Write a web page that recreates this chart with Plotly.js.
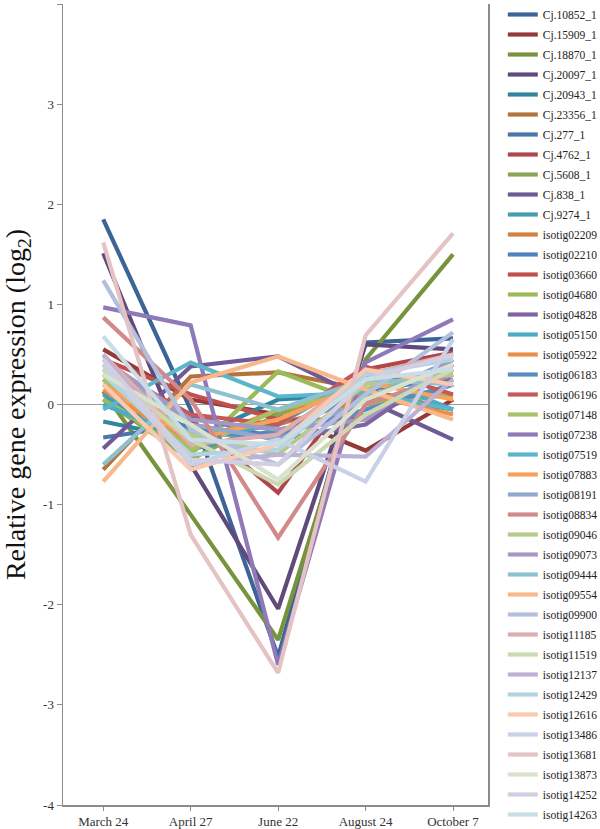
<!DOCTYPE html>
<html>
<head>
<meta charset="utf-8">
<script src="https://cdn.plot.ly/plotly-3.0.1.min.js"></script>
<style>
  html, body { margin: 0; padding: 0; background: #fff; }
  #plot { width: 600px; height: 829px; }
</style>
</head>
<body>
<div id="plot"></div>
<script>
// sampling dates (x categories)
const dates = ['March 24', 'April 27', 'June 22', 'August 24', 'October 7'];

// y tick labels (hyphen minus as in the original)
const yTicks = [-4, -3, -2, -1, 0, 1, 2, 3, 4];
const yTickText = ['-4', '-3', '-2', '-1', '0', '1', '2', '3', '4'];

// gene names, in legend order
const genes = [
  'Cj.10852_1', 'Cj.15909_1', 'Cj.18870_1', 'Cj.20097_1', 'Cj.20943_1', 'Cj.23356_1',
  'Cj.277_1', 'Cj.4762_1', 'Cj.5608_1', 'Cj.838_1', 'Cj.9274_1', 'isotig02209',
  'isotig02210', 'isotig03660', 'isotig04680', 'isotig04828', 'isotig05150', 'isotig05922',
  'isotig06183', 'isotig06196', 'isotig07148', 'isotig07238', 'isotig07519', 'isotig07883',
  'isotig08191', 'isotig08834', 'isotig09046', 'isotig09073', 'isotig09444', 'isotig09554',
  'isotig09900', 'isotig11185', 'isotig11519', 'isotig12137', 'isotig12429', 'isotig12616',
  'isotig13486', 'isotig13681', 'isotig13873', 'isotig14252', 'isotig14263'
];

// relative expression (log2), one row per gene, one value per date
const expression = [
  [1.85, -0.05, -2.52, 0.62, 0.66],
  [0.55, 0.05, -0.10, -0.46, 0.05],
  [0.13, -1.10, -2.35, 0.45, 1.50],
  [1.51, -0.60, -2.04, 0.60, 0.55],
  [-0.17, -0.35, 0.05, 0.10, -0.05],
  [-0.65, 0.28, 0.32, 0.15, -0.05],
  [-0.33, -0.20, -0.35, 0.25, 0.30],
  [0.30, -0.15, -0.88, 0.35, 0.52],
  [0.05, -0.55, -0.10, 0.20, 0.30],
  [-0.44, 0.38, 0.48, 0.05, -0.35],
  [0.10, -0.45, -0.25, -0.10, 0.20],
  [0.25, -0.30, -0.20, 0.05, 0.10],
  [0.20, -0.25, -0.30, 0.15, 0.25],
  [0.45, 0.10, -0.15, -0.15, 0.35],
  [0.05, -0.50, 0.33, 0.00, 0.10],
  [0.35, -0.10, -0.35, -0.20, 0.40],
  [0.00, -0.35, -0.20, 0.30, -0.05],
  [0.15, -0.40, -0.05, 0.10, -0.10],
  [0.30, -0.30, -0.30, -0.05, 0.20],
  [0.40, -0.10, -0.20, 0.38, 0.10],
  [0.25, -0.45, -0.05, 0.15, 0.35],
  [0.97, 0.79, -2.60, 0.42, 0.85],
  [-0.05, 0.42, 0.08, 0.12, -0.05],
  [0.20, -0.35, -0.15, 0.22, 0.05],
  [0.40, -0.20, -0.35, 0.05, 0.45],
  [0.87, 0.05, -1.33, 0.00, 0.30],
  [0.30, -0.30, -0.50, 0.20, 0.30],
  [0.45, -0.15, -0.25, -0.15, 0.45],
  [-0.60, 0.20, -0.05, 0.25, 0.20],
  [-0.77, 0.22, 0.48, 0.15, -0.15],
  [1.24, -0.25, -0.60, 0.10, 0.72],
  [0.50, -0.40, -0.30, 0.30, 0.50],
  [0.35, -0.35, -0.80, -0.10, 0.35],
  [0.50, -0.60, -0.50, -0.52, 0.25],
  [0.30, -0.50, -0.45, 0.30, 0.45],
  [0.20, -0.65, -0.40, 0.35, 0.20],
  [0.40, -0.60, -0.35, -0.77, 0.65],
  [1.62, -1.30, -2.68, 0.69, 1.71],
  [0.30, -0.20, -0.75, 0.05, 0.40],
  [0.45, -0.55, -0.60, 0.25, 0.50],
  [0.68, -0.35, -0.40, 0.25, 0.35]
];

const colors = [
  '#3c6496', '#953a38', '#77933c', '#604a7b', '#31859c', '#b3733c',
  '#4a76a8', '#b0464a', '#8ba557', '#6f5a96', '#479daf', '#d4813f',
  '#4f81bd', '#c0504d', '#9bbb59', '#8064a2', '#4bacc6', '#e8904a',
  '#5b8bc3', '#c6585a', '#a5c266', '#9079b8', '#5bb6cc', '#f8a15d',
  '#92a9cf', '#d18a89', '#b5ca8b', '#a698c2', '#8ec1d0', '#f9b88b',
  '#b3c0dd', '#ddaeb0', '#cbd9b3', '#bdb1d6', '#b1d4e0', '#fac9af',
  '#c8d1e6', '#e5c3c4', '#d9e2cc', '#d3cee2', '#c9dde6'
];

const serif = '"Liberation Serif", "Times New Roman", serif';

const traces = genes.map((g, i) => ({
  x: dates,
  y: expression[i],
  type: 'scatter',
  mode: 'lines',
  name: g,
  legendgroup: g,
  line: { color: colors[i], width: 4.2 }
}));

const layout = {
  width: 600,
  height: 829,
  margin: { l: 63, r: 112, t: 4, b: 24 },
  paper_bgcolor: '#fff',
  plot_bgcolor: '#fff',
  font: { family: serif, size: 13, color: '#333' },
  showlegend: true,
  legend: {
    xref: 'container', yref: 'container',
    x: 0.838, y: 1.0126, xanchor: 'left', yanchor: 'top',
    maxheight: 860,
    font: { family: serif, size: 11.5, color: '#222' },
    tracegroupgap: 1,
    bgcolor: 'rgba(0,0,0,0)'
  },
  xaxis: {
    type: 'category',
    range: [-0.46, 4.4],
    showgrid: false,
    zeroline: false,
    showline: true,
    linecolor: '#8c8c8c',
    linewidth: 1.5,
    ticks: 'outside',
    ticklen: 4,
    tickcolor: '#8c8c8c',
    tickfont: { family: serif, size: 13, color: '#333' }
  },
  yaxis: {
    range: [-4, 4],
    tickvals: yTicks,
    ticktext: yTickText,
    showgrid: false,
    zeroline: true,
    zerolinecolor: '#9a9a9a',
    zerolinewidth: 1.2,
    showline: true,
    mirror: true,
    linecolor: '#8c8c8c',
    linewidth: 1.5,
    ticks: 'outside',
    ticklen: 5,
    tickcolor: '#8c8c8c',
    tickfont: { family: serif, size: 13, color: '#333' },
    title: {
      text: 'Relative gene expression (log<sub>2</sub>)',
      font: { family: serif, size: 28, color: '#111' },
      standoff: 12
    }
  }
};

Plotly.newPlot('plot', traces, layout, { displayModeBar: false, staticPlot: true });
</script>
</body>
</html>
